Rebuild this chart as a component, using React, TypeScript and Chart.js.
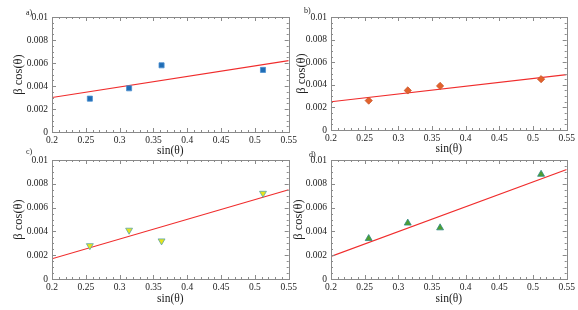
import React, { useEffect, useRef } from "react";
import { Chart, registerables } from "chart.js";

Chart.register(...registerables);

// ---------- data ----------
const sinTheta = [0.256, 0.314, 0.362, 0.512];
const betaCosA = [0.0029, 0.0038, 0.0058, 0.0054];
const betaCosB = [0.0026, 0.0035, 0.0039, 0.0045];
const betaCosC = [0.0028, 0.0041, 0.0032, 0.0072];
const betaCosD = [0.0034, 0.0047, 0.0043, 0.0088];
const fitX = [0.2, 0.55];
const fitA = [0.003, 0.0062];
const fitB = [0.0025, 0.0049];
const fitC = [0.0017, 0.0075];
const fitD = [0.0019, 0.0092];
const panelLabels = ["a)", "b)", "c)", "d)"];
const xTitle = "sin(θ)";
const yTitle = "β cos(θ)";

const SERIF = "'Liberation Serif', 'DejaVu Serif', serif";

type Panel = {
  left: number; top: number; width: number; height: number;
  padTop: number; padRight: number; yAxisWidth: number; xAxisHeight: number;
  yTitlePad: number; ys: number[]; fit: number[];
  pointStyle: string; rotation: number; radius: number;
  bg: string; border: string; label: string; labelX: number; labelY: number;
};

const panels: Panel[] = [
  { left: 0, top: 0, width: 300, height: 162, padTop: 17, padRight: 10, yAxisWidth: 52, xAxisHeight: 30, yTitlePad: 11.5, ys: betaCosA, fit: fitA, pointStyle: "rect", rotation: 0, radius: 3.6, bg: "#1f6db5", border: "#4b8fd0", label: panelLabels[0], labelX: 26, labelY: 13 },
  { left: 288, top: 0, width: 290, height: 160, padTop: 17, padRight: 11, yAxisWidth: 43, xAxisHeight: 30, yTitlePad: 6, ys: betaCosB, fit: fitB, pointStyle: "rectRot", rotation: 0, radius: 3.6, bg: "#e2632c", border: "#c9542a", label: panelLabels[1], labelX: 16, labelY: 11 },
  { left: 0, top: 143, width: 300, height: 167, padTop: 17, padRight: 10, yAxisWidth: 52, xAxisHeight: 31, yTitlePad: 11.5, ys: betaCosC, fit: fitC, pointStyle: "triangle", rotation: 180, radius: 4, bg: "#e6e41c", border: "#5aa6a8", label: panelLabels[2], labelX: 26, labelY: 9 },
  { left: 288, top: 143, width: 290, height: 167, padTop: 17, padRight: 11, yAxisWidth: 43, xAxisHeight: 31, yTitlePad: 3, ys: betaCosD, fit: fitD, pointStyle: "triangle", rotation: 0, radius: 4, bg: "#4f9e2e", border: "#2f8a86", label: panelLabels[3], labelX: 21, labelY: 12 },
];

const framePlugin = {
  id: "frameTicks",
  afterDatasetsDraw(chart: any, _args: any, opts: any) {
    const { ctx, chartArea: a, scales } = chart;
    const xs = scales.x, ys = scales.y;
    ctx.save();
    ctx.strokeStyle = "#8a8a8a";
    ctx.lineWidth = 1;
    ctx.strokeRect(Math.round(a.left) + 0.5, Math.round(a.top) + 0.5, Math.round(a.right - a.left), Math.round(a.bottom - a.top));
    ctx.beginPath();
    for (let i = 0; i <= 35; i++) {
      const v = 0.2 + i * 0.01;
      const px = Math.round(xs.getPixelForValue(v)) + 0.5;
      const len = i % 5 === 0 ? 4 : 2;
      ctx.moveTo(px, a.bottom); ctx.lineTo(px, a.bottom - len);
      ctx.moveTo(px, a.top); ctx.lineTo(px, a.top + len);
    }
    for (let i = 0; i <= 20; i++) {
      const v = i * 0.0005;
      const py = Math.round(ys.getPixelForValue(v)) + 0.5;
      const len = i % 4 === 0 ? 4 : 2;
      ctx.moveTo(a.left, py); ctx.lineTo(a.left + len, py);
      ctx.moveTo(a.right, py); ctx.lineTo(a.right - len, py);
    }
    ctx.stroke();
    ctx.fillStyle = "#222";
    ctx.font = `8px ${SERIF}`;
    ctx.textAlign = "left";
    ctx.textBaseline = "middle";
    ctx.fillText(opts.label, opts.x, opts.y);
    ctx.restore();
  },
};

function PanelChart({ p }: { p: Panel }) {
  const ref = useRef<HTMLCanvasElement | null>(null);
  useEffect(() => {
    if (!ref.current) return;
    const chart = new Chart(ref.current, {
      type: "scatter",
      data: {
        datasets: [
          {
            data: sinTheta.map((x, i) => ({ x, y: p.ys[i] })),
            pointStyle: p.pointStyle as any,
            rotation: p.rotation,
            pointRadius: p.radius,
            backgroundColor: p.bg,
            borderColor: p.border,
            borderWidth: 0.8,
            order: 0,
          },
          {
            data: fitX.map((x, i) => ({ x, y: p.fit[i] })),
            showLine: true,
            pointRadius: 0,
            borderColor: "#f02c2c",
            borderWidth: 1.2,
            order: 1,
          } as any,
        ],
      },
      options: {
        responsive: false,
        animation: false,
        layout: { padding: { top: p.padTop, right: p.padRight, left: 0, bottom: 0 } },
        plugins: {
          legend: { display: false },
          tooltip: { enabled: false },
          frameTicks: { label: p.label, x: p.labelX, y: p.labelY },
        } as any,
        scales: {
          x: {
            type: "linear",
            min: 0.2,
            max: 0.55,
            grid: { display: false, drawTicks: false, tickLength: 0 },
            border: { display: false },
            ticks: {
              stepSize: 0.05,
              padding: 3,
              color: "#222",
              font: { family: SERIF, size: 9.5 },
              maxRotation: 0,
              autoSkip: false,
              callback: (v: any) => String(Number(Number(v).toFixed(2))),
            },
            title: {
              display: true,
              text: xTitle,
              color: "#222",
              font: { family: SERIF, size: 11.5 },
              padding: { top: 0, bottom: 4 },
            },
            afterFit: (s: any) => { s.height = p.xAxisHeight; },
          },
          y: {
            type: "linear",
            min: 0,
            max: 0.01,
            grid: { display: false, drawTicks: false, tickLength: 0 },
            border: { display: false },
            ticks: {
              stepSize: 0.002,
              padding: 4,
              color: "#222",
              font: { family: SERIF, size: 9.5 },
              autoSkip: false,
              callback: (v: any) => String(Number(Number(v).toFixed(4))),
            },
            title: {
              display: true,
              text: yTitle,
              color: "#222",
              font: { family: SERIF, size: 12.5 },
              padding: { top: p.yTitlePad, bottom: 0 },
            },
            afterFit: (s: any) => { s.width = p.yAxisWidth; },
          },
        },
      },
      plugins: [framePlugin],
    });
    return () => chart.destroy();
  }, [p]);
  return (
    <canvas
      ref={ref}
      width={p.width}
      height={p.height}
      style={{ position: "absolute", left: p.left, top: p.top, width: p.width, height: p.height }}
    />
  );
}

export default function App() {
  return (
    <div style={{ position: "absolute", left: 0, top: 0, width: 578, height: 310, background: "#fff", overflow: "hidden" }}>
      {panels.map((p, i) => (
        <PanelChart key={i} p={p} />
      ))}
    </div>
  );
}
